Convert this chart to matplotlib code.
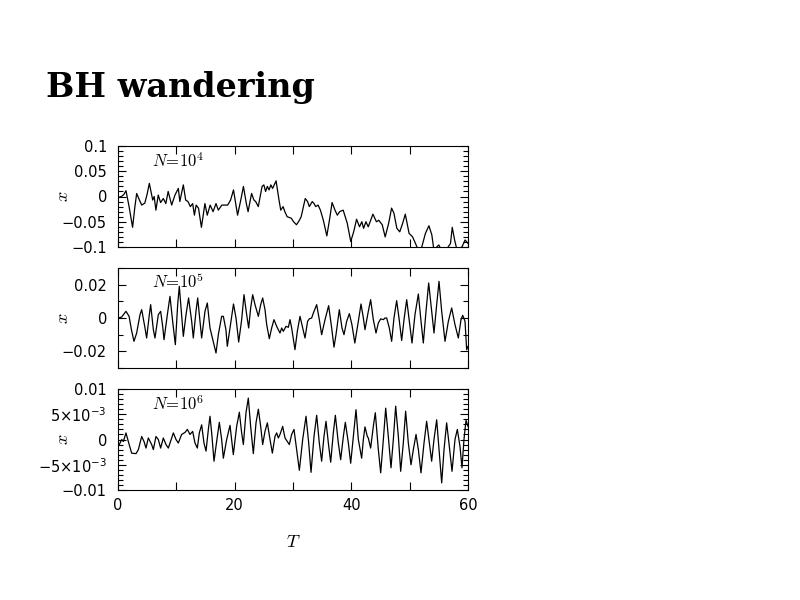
import matplotlib
matplotlib.use('Agg')
import matplotlib.pyplot as plt
from matplotlib.ticker import MultipleLocator, FixedLocator, FuncFormatter

# N = 10^4
t1 = [0, 0.6, 1.0, 1.37, 1.9, 2.5, 2.9, 3.2, 3.6, 4.06, 4.6, 5.0, 5.37, 5.95, 6.2, 6.5,
      6.9, 7.3, 7.77, 8.2, 8.6, 9.2, 9.77, 10.34, 10.6, 11.2, 11.6, 12.0, 12.4, 12.8,
      13.1, 13.4, 13.8, 14.3, 14.9, 15.3, 15.8, 16.3, 16.8, 17.2, 17.8, 18.8, 19.3,
      19.8, 20.5, 21.1, 21.5, 22.0, 22.3, 22.9, 23.3, 23.6, 24.05, 24.7, 25.0, 25.3,
      25.6, 25.9, 26.2, 26.5, 27.1, 27.6, 27.9, 28.3, 28.6, 29.0, 29.7, 30.1, 30.6,
      31.1, 31.4, 32.1, 32.5, 32.8, 33.3, 33.6, 33.9, 34.3, 34.7, 35.2, 35.8, 36.3,
      36.7, 37.2, 37.6, 38.0, 38.6, 39.3, 39.9, 40.4, 40.9, 41.4, 41.8, 42.1, 42.5,
      42.9, 43.7, 44.3, 44.7, 45.3, 45.8, 46.4, 46.9, 47.3, 47.8, 48.3, 48.8, 49.25,
      49.9, 50.5, 51.0, 51.6, 52.1, 52.7, 53.3, 53.8, 54.2, 54.7, 55.0, 55.3, 56.0,
      57.0, 57.3, 57.7, 58.2, 59.0, 59.5, 60]
x1 = [-0.002, 0.0, 0.004, 0.0115, -0.02, -0.061, -0.02, 0.006, -0.005, -0.017, -0.013,
      0.005, 0.026, -0.007, 0.0, -0.027, 0.003, -0.012, -0.004, -0.014, 0.010, -0.017,
      0.003, 0.016, -0.010, 0.023, -0.007, -0.010, -0.020, -0.014, -0.037, -0.017,
      -0.023, -0.061, -0.014, -0.037, -0.017, -0.030, -0.014, -0.027, -0.017, -0.017,
      -0.007, 0.013, -0.037, -0.004, 0.020, -0.014, -0.030, 0.006, -0.007, -0.010,
      -0.020, 0.020, 0.023, 0.010, 0.020, 0.013, 0.023, 0.016, 0.031, -0.007, -0.027,
      -0.020, -0.030, -0.040, -0.043, -0.050, -0.056, -0.047, -0.040, -0.004, -0.010,
      -0.020, -0.010, -0.014, -0.020, -0.017, -0.027, -0.047, -0.078, -0.043, -0.012,
      -0.027, -0.037, -0.030, -0.027, -0.053, -0.089, -0.070, -0.045, -0.060, -0.050,
      -0.063, -0.050, -0.060, -0.035, -0.050, -0.047, -0.056, -0.080, -0.053, -0.023,
      -0.033, -0.063, -0.070, -0.053, -0.035, -0.073, -0.080, -0.093, -0.110, -0.099,
      -0.073, -0.058, -0.076, -0.110, -0.099, -0.096, -0.103, -0.110, -0.093, -0.061,
      -0.086, -0.110, -0.099, -0.086, -0.093]

# N = 10^5
t2 = [0, 0.6, 1.37, 1.9, 2.3, 2.74, 3.2, 3.77, 4.06, 4.63, 4.91, 5.37, 5.6, 6.06, 6.34,
      6.91, 7.31, 7.66, 7.89, 8.46, 8.91, 9.37, 9.83, 10.23, 10.51, 10.91, 11.2, 11.66,
      12.1, 12.63, 12.91, 13.37, 13.66, 14.06, 14.34, 14.91, 15.31, 15.77, 16.8, 17.2,
      17.77, 18.06, 18.5, 18.74, 19.2, 19.8, 20.23, 20.69, 21.2, 21.6, 22.06, 22.4,
      22.74, 23.09, 23.49, 24.06, 24.46, 24.8, 25.2, 25.49, 25.94, 26.34, 26.74, 27.2,
      27.49, 27.77, 28.06, 28.34, 28.8, 29.2, 29.49, 29.77, 30.34, 30.74, 31.2, 31.66,
      32.06, 32.5, 32.8, 33.2, 33.49, 34.06, 34.51, 34.91, 35.49, 36.11, 36.63, 37.03,
      37.37, 37.94, 38.4, 38.74, 39.2, 39.66, 40.1, 40.6, 41.2, 41.66, 42.06, 42.34,
      42.91, 43.31, 43.77, 44.23, 44.63, 45.03, 45.49, 45.77, 46.06, 46.51, 46.91,
      47.31, 47.77, 48.17, 48.63, 49.03, 49.49, 49.94, 50.4, 50.91, 51.49, 51.89, 52.34,
      52.8, 53.26, 53.77, 54.17, 54.63, 55.03, 55.49, 56.06, 56.63, 57.2, 57.77, 58.34,
      58.8, 59.09, 59.49, 59.77, 60]
x2 = [0.0, 0.0005, 0.004, 0.001, -0.007, -0.014, -0.009, 0.002, 0.005, -0.006, -0.012,
      0.002, 0.008, -0.007, -0.012, 0.002, 0.004, -0.005, -0.013, 0.002, 0.013, -0.002,
      -0.016, 0.008, 0.019, 0.002, -0.011, 0.002, 0.012, -0.002, -0.012, 0.004, 0.012,
      -0.002, -0.012, 0.004, 0.009, -0.006, -0.021, -0.010, 0.001, 0.001, -0.007,
      -0.017, -0.006, 0.0084, 0.0, -0.0144, -0.001, 0.014, 0.002, -0.006, 0.006, 0.014,
      0.008, 0.001, 0.008, 0.012, 0.005, -0.004, -0.0124, -0.006, -0.001, -0.005,
      -0.007, -0.009, -0.006, -0.008, -0.005, -0.0056, -0.001, -0.006, -0.019, -0.008,
      0.001, -0.006, -0.012, -0.002, -0.0005, 0.0, 0.003, 0.008, -0.001, -0.010,
      -0.001, 0.0074, -0.006, -0.0175, -0.010, 0.005, -0.006, -0.010, -0.002, 0.0026,
      -0.004, -0.015, -0.002, 0.0084, 0.0, -0.007, 0.004, 0.011, -0.001, -0.009,
      -0.003, -0.0005, -0.001, 0.0, 0.0, -0.006, -0.014, 0.0, 0.0104, 0.0, -0.0135,
      -0.001, 0.011, -0.002, -0.015, 0.002, 0.0144, 0.0, -0.015, 0.004, 0.021, 0.004,
      -0.009, 0.008, 0.022, 0.004, -0.014, -0.002, 0.006, -0.004, -0.012, -0.001,
      0.0016, -0.002, -0.019, -0.017]

# N = 10^6
t3 = [0, 0.23, 0.63, 0.91, 1.37, 1.77, 2.34, 3.09, 3.49, 4.06, 4.46, 4.8, 5.2, 5.77,
      6.06, 6.51, 6.91, 7.31, 7.77, 8.23, 8.63, 9.2, 9.49, 9.94, 10.34, 10.91, 11.49,
      11.89, 12.34, 12.8, 13.2, 13.6, 13.94, 14.34, 14.74, 15.09, 15.49, 15.77, 16.06,
      16.46, 16.91, 17.37, 17.77, 18.06, 18.63, 19.2, 19.77, 20.34, 20.8, 21.2, 21.49,
      21.94, 22.34, 22.74, 23.2, 23.66, 24.06, 24.46, 24.8, 25.2, 25.6, 26.06, 26.46,
      26.91, 27.2, 27.49, 27.77, 28.23, 28.63, 29.03, 29.37, 29.77, 30.17, 30.63, 31.09,
      31.66, 32.23, 32.69, 33.09, 33.6, 34.06, 34.51, 34.91, 35.31, 35.66, 36.06, 36.46,
      36.91, 37.26, 37.77, 38.17, 38.63, 38.97, 39.49, 39.89, 40.34, 40.8, 41.2, 41.77,
      42.06, 42.34, 42.74, 42.91, 43.31, 43.77, 44.11, 44.63, 45.03, 45.49, 45.89,
      46.34, 46.8, 47.2, 47.6, 48.06, 48.46, 48.91, 49.31, 49.77, 50.23, 50.63, 51.09,
      51.49, 51.94, 52.46, 52.91, 53.37, 53.77, 54.17, 54.63, 55.03, 55.49, 55.89,
      56.34, 56.8, 57.26, 57.77, 58.17, 58.63, 58.97, 59.31, 59.66, 60]
x3 = [-0.0007, -0.001, 0.0, -0.0004, 0.0013, -0.0004, -0.0027, -0.0028, -0.002, 0.0006,
      -0.0004, -0.0017, 0.0003, -0.001, -0.002, 0.0006, 0.0, -0.0017, 0.0003, -0.001,
      -0.0017, 0.0003, 0.0013, 0.0, -0.0007, 0.001, 0.0014, 0.002, 0.001, 0.0016,
      -0.0007, -0.0017, 0.0013, 0.0029, -0.0007, -0.0023, 0.002, 0.0046, 0.0013,
      -0.0043, -0.0004, 0.0034, 0.0, -0.0037, 0.0, 0.0028, -0.003, 0.0026, 0.0054,
      0.0013, -0.001, 0.0053, 0.0082, 0.0026, -0.0028, 0.0033, 0.006, 0.0026, -0.001,
      0.0016, 0.0033, 0.0, -0.0027, 0.0006, 0.0013, 0.0003, 0.001, 0.0026, 0.0003,
      -0.0004, -0.001, 0.001, 0.002, -0.002, -0.0061, 0.0, 0.0046, -0.0007, -0.0065,
      0.0006, 0.0048, -0.0007, -0.0043, 0.0006, 0.0036, -0.0007, -0.0045, 0.0013,
      0.0048, -0.0007, -0.004, 0.0006, 0.0034, -0.0007, -0.0047, 0.0006, 0.0059, 0.0,
      -0.0037, 0.0, 0.0025, 0.0006, 0.0003, -0.0017, 0.0026, 0.0053, -0.002, -0.0066,
      0.0, 0.0062, 0.0006, -0.0056, 0.0, 0.0066, 0.0006, -0.0063, -0.0007, 0.0056,
      -0.0007, -0.005, -0.002, 0.001, -0.002, -0.0066, -0.0007, 0.0036, -0.0007,
      -0.0043, 0.0, 0.0039, -0.002, -0.0086, -0.002, 0.0033, -0.0014, -0.0063, 0.0,
      0.002, -0.0014, -0.0056, 0.0, 0.0038, 0.0026]

labels = [r'$N\!=\!\mathit{10}^{\mathit{4}}$', r'$N\!=\!\mathit{10}^{\mathit{5}}$',
          r'$N\!=\!\mathit{10}^{\mathit{6}}$']

fig = plt.figure(figsize=(8, 6), dpi=100)
fig.text(46 / 800, 1 - 97 / 600, 'BH wandering', family='DejaVu Serif',
         fontweight='bold', fontsize=24, ha='left', va='baseline')

left, width = 118 / 800, 350 / 800
boxes = [(146, 247), (268, 368), (389, 490)]
axes = []
for top, bot in boxes:
    axes.append(fig.add_axes([left, 1 - bot / 600, width, (bot - top) / 600]))

series = [(t1, x1), (t2, x2), (t3, x3)]
ylims = [(-0.1, 0.1), (-0.03, 0.03), (-0.01, 0.01)]
ymajor = [[-0.1, -0.05, 0, 0.05, 0.1], [-0.02, 0, 0.02], [-0.01, -0.005, 0, 0.005, 0.01]]
ylab = [['\u22120.1', '\u22120.05', '0', '0.05', '0.1'],
        ['\u22120.02', '0', '0.02'],
        ['\u22120.01', r'$-5{\times}10^{-3}$', '0', r'$5{\times}10^{-3}$', '0.01']]
yminor = [0.01, 0.01, 0.001]

for i, ax in enumerate(axes):
    t, x = series[i]
    ax.plot(t, x, color='black', lw=0.9)
    ax.set_xlim(0, 60)
    ax.set_ylim(*ylims[i])
    ax.xaxis.set_major_locator(MultipleLocator(10))
    if i == 2:
        ax.xaxis.set_major_formatter(FuncFormatter(
            lambda v, p: '%d' % v if int(round(v)) % 20 == 0 else ''))
    else:
        ax.set_xticklabels([])
    ax.yaxis.set_major_locator(FixedLocator(ymajor[i]))
    ax.set_yticklabels(ylab[i])
    ax.yaxis.set_minor_locator(MultipleLocator(yminor[i]))
    ax.tick_params(which='both', direction='in', top=True, right=True, width=0.8)
    ax.tick_params(which='major', length=5.5)
    ax.tick_params(which='minor', length=3.5)
    ax.tick_params(axis='y', pad=8, labelsize=10.5)
    ax.tick_params(axis='x', pad=6, labelsize=10.5)
    for s in ax.spines.values():
        s.set_linewidth(0.8)
    ax.set_ylabel(r'$x$', math_fontfamily='cm', fontsize=13)
    ax.yaxis.set_label_coords(-0.13, 0.5)
    ax.text(0.097, 0.795, labels[i], transform=ax.transAxes, math_fontfamily='cm',
            fontsize=12, ha='left', va='baseline')

axes[2].set_xlabel(r'$T$', math_fontfamily='cm', fontsize=13)
axes[2].xaxis.set_label_coords(0.5, -0.43)

fig.savefig('out.png', dpi=100)
